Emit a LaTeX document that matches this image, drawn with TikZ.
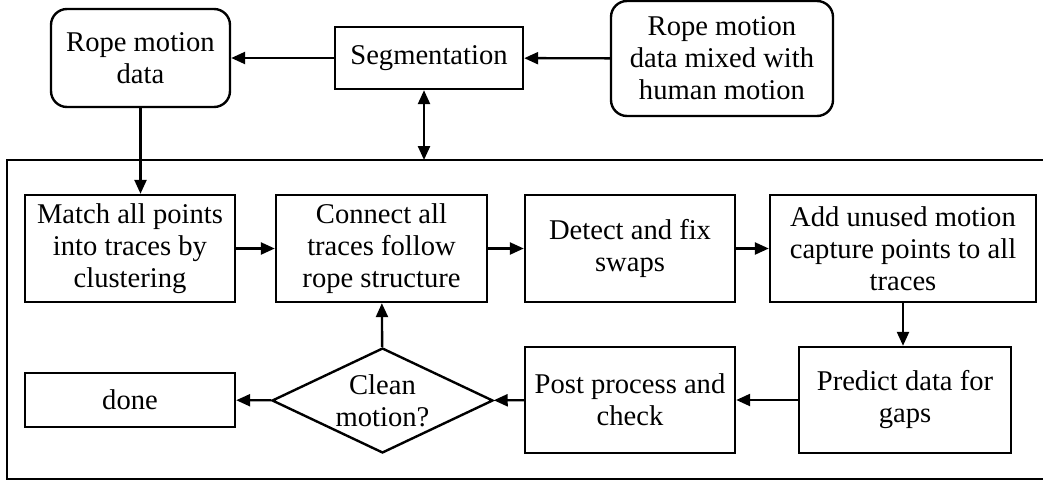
\documentclass[tikz,border=0pt]{standalone}
\usepackage{fontspec}
\setmainfont{Liberation Serif}
\usepackage{tikz}
\usetikzlibrary{arrows.meta, positioning, shapes.geometric, calc}

\begin{document}
\begin{tikzpicture}[
	x=0.5pt, y=-0.5pt,
	font=\fontsize{14.3}{16}\selectfont,
	>={Triangle[length=7pt, width=6pt]},
	% Style for plain process boxes
	stepbox/.style={rectangle, draw, line width=1.2pt, align=center, inner sep=0pt},
	% Style for data sources (rounded)
	databox/.style={rectangle, rounded corners=8pt, draw, line width=1.2pt, align=center, inner sep=0pt},
	% Style for the decision
	decision/.style={diamond, draw, line width=1.2pt, align=center, inner sep=0pt, aspect=2.1},
	% Style for connectors
	link/.style={line width=1.2pt, ->}
	]
	
	\useasboundingbox (0,0) rectangle (1043,482);
	
	% 1. Input data and segmentation
	\node[databox, minimum width=89.5pt, minimum height=49pt] (ropedata) at (140.5,58) {Rope motion\\data};
	\node[stepbox, minimum width=94pt, minimum height=31pt] (seg) at (429,58) {Segmentation};
	\node[databox, minimum width=111pt, minimum height=57.5pt] (mixed) at (722,58.5) {Rope motion\\data mixed with\\human motion};
	
	% 2. Frame round the processing steps
	\coordinate (frameTL) at (7,160);
	\coordinate (frameBL) at (7,479);
	\coordinate (frameTR) at (1050,160);
	\coordinate (frameBR) at (1050,479);
	\draw[line width=1.2pt] (frameTR) -- (frameTL) -- (frameBL) -- (frameBR);
	
	% 3. Upper row of steps
	\node[stepbox, minimum width=105pt, minimum height=53.5pt] (match) at (130,248.5) {Match all points\\into traces by\\clustering};
	\node[stepbox, minimum width=105.5pt, minimum height=53.5pt] (connect) at (381.5,248.5) {Connect all\\traces follow\\rope structure};
	\node[stepbox, minimum width=105pt, minimum height=53.5pt] (detect) at (630,248.5) {Detect and fix\\swaps};
	\node[stepbox, minimum width=133pt, minimum height=53.5pt] (add) at (903,248.5) {Add unused motion\\capture points to all\\traces};
	
	% 4. Lower row of steps
	\node[stepbox, minimum width=106pt, minimum height=53pt] (predict) at (905,400) {Predict data for\\gaps};
	\node[stepbox, minimum width=105pt, minimum height=53pt] (post) at (630,400) {Post process and\\check};
	\node[decision, minimum width=110.5pt, minimum height=52.5pt] (clean) at (382.5,400.5) {Clean\\motion?};
	\node[stepbox, minimum width=105pt, minimum height=27pt] (done) at (130,400) {done};
	
	% 5. Connectors
	\draw[link] (mixed) -- (seg);
	\draw[link] (seg) -- (ropedata);
	\draw[line width=1.2pt, <->] (seg.south -| 424,0) -- (frameTL -| 424,0);
	\draw[link] (ropedata) -- (ropedata |- match.north);
	\draw[link] (match) -- (connect);
	\draw[link] (connect) -- (detect);
	\draw[link] (detect) -- (add);
	\draw[link] (add) -- (add |- predict.north);
	\draw[link] (predict) -- (post);
	\draw[link] (post) -- (clean);
	\draw[link] (clean) -- (done);
	\draw[link] (clean) -- (connect);
	
\end{tikzpicture}
\end{document}
